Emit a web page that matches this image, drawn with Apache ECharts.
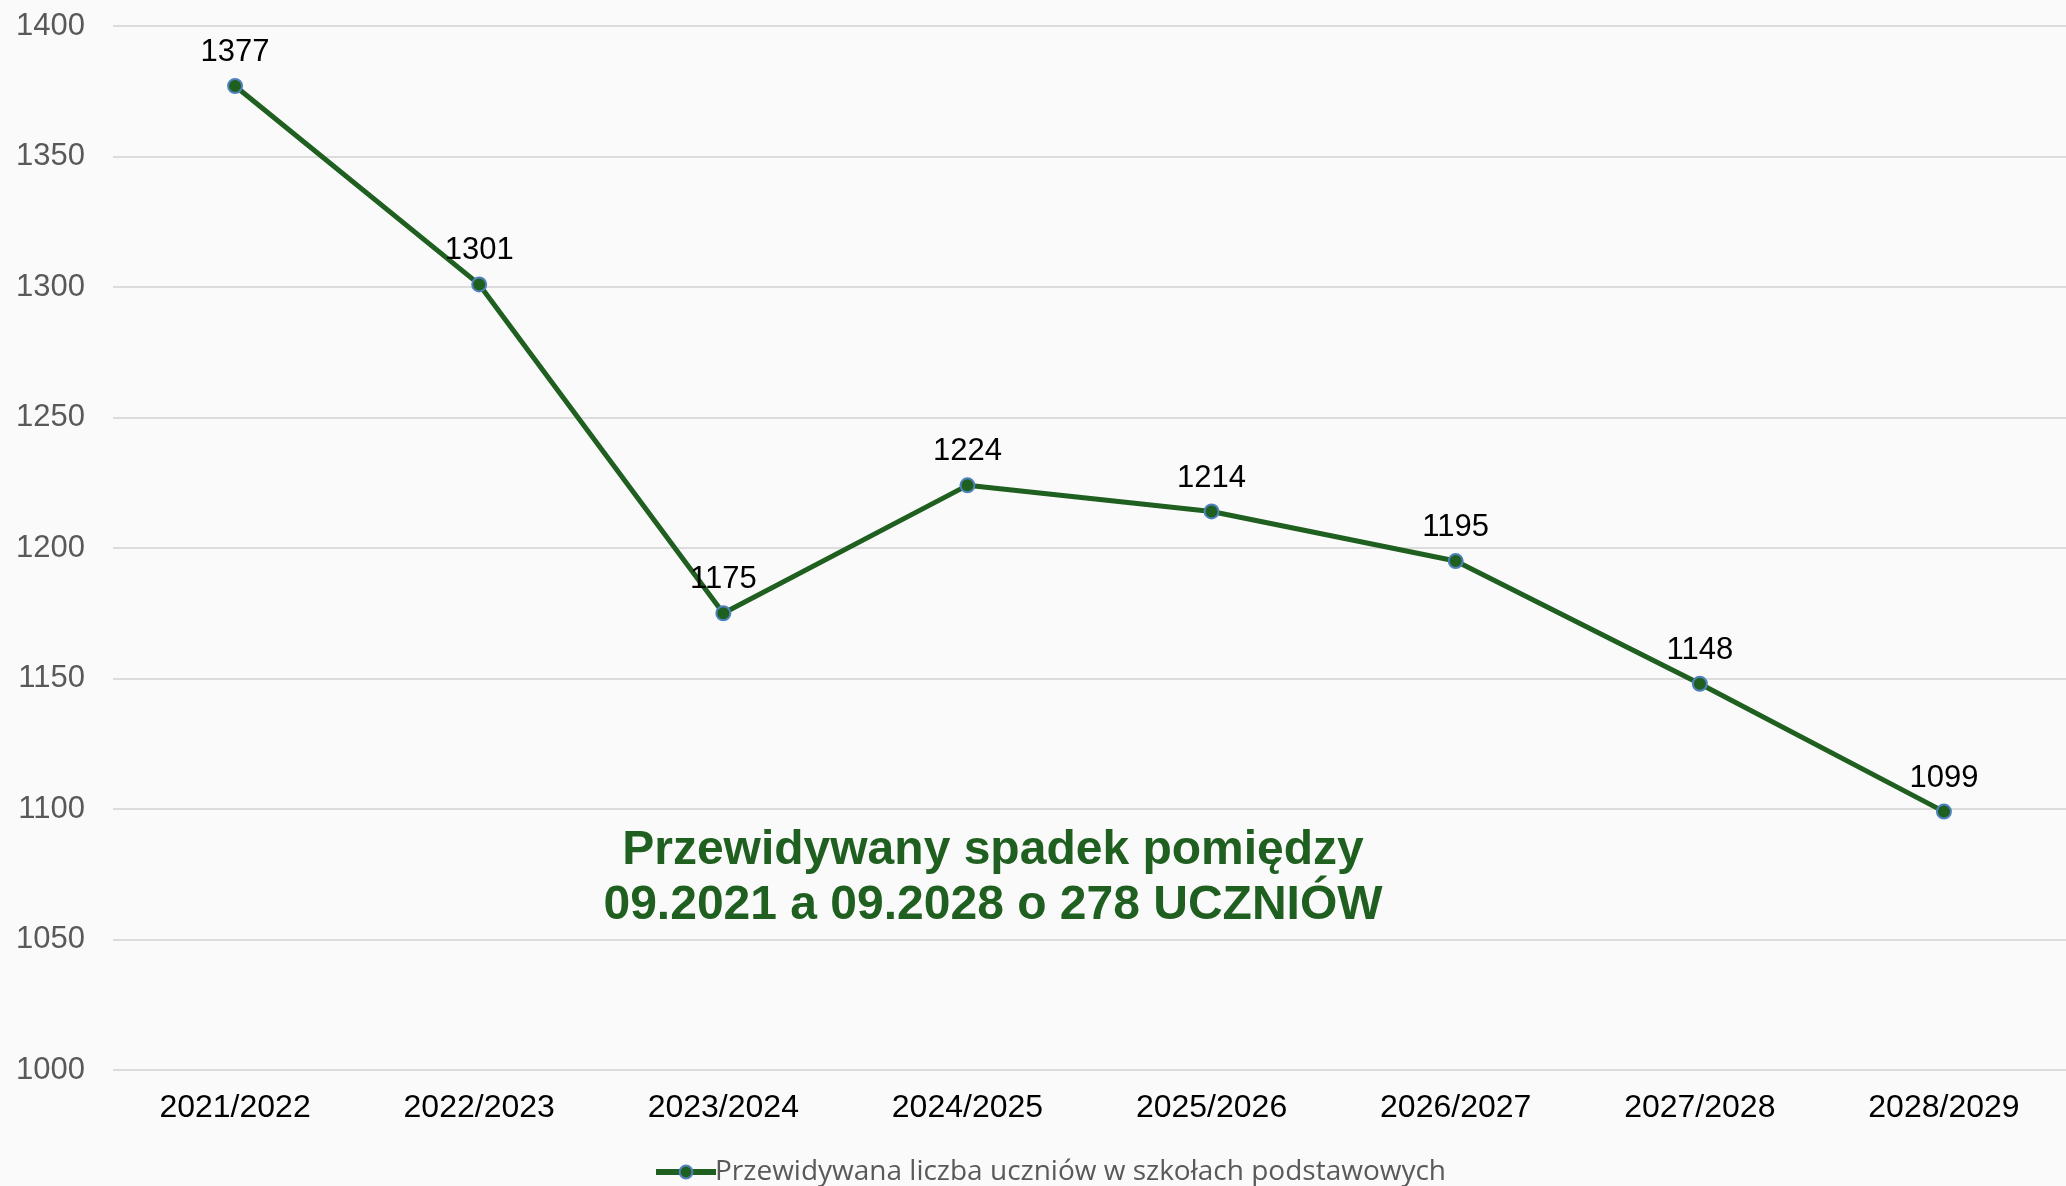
<!DOCTYPE html>
<html>
<head>
<meta charset="utf-8">
<script src="https://cdn.jsdelivr.net/npm/echarts@6/dist/echarts.min.js"></script>
<style>
html,body{margin:0;padding:0;background:#fafafa;}
#chart{width:2066px;height:1186px;}
</style>
</head>
<body>
<div id="chart"></div>
<script>
// lata szkolne
var years = ['2021/2022','2022/2023','2023/2024','2024/2025','2025/2026','2026/2027','2027/2028','2028/2029'];
// przewidywana liczba uczniow
var students = [1377,1301,1175,1224,1214,1195,1148,1099];
var seriesName = 'Przewidywana liczba uczniów w szkołach podstawowych';
var noteLines = ['Przewidywany spadek pomiędzy','09.2021 a 09.2028 o 278 UCZNIÓW'];

var green = '#1f5f1f';
var chart = echarts.init(document.getElementById('chart'));
var opt = {
    backgroundColor: '#fafafa',
    animation: false,
    grid: {left: 113, right: 0, top: 26, bottom: 116},
    legend: {
        top: 1153,
        left: 648,
        itemWidth: 60,
        itemHeight: 16,
        itemGap: 0,
        lineStyle: {width: 6},
        textStyle: {fontFamily: 'Open Sans', fontSize: 28, color: '#595959', padding: [0,0,0,-6]},
        data: [seriesName]
    },
    xAxis: {
        type: 'category',
        data: years,
        axisLine: {show: false},
        axisTick: {show: false},
        axisLabel: {fontFamily: 'Liberation Sans', fontSize: 32, color: '#000', margin: 22}
    },
    yAxis: {
        type: 'value',
        min: 1000,
        max: 1400,
        interval: 50,
        axisLine: {show: false},
        axisTick: {show: false},
        splitLine: {lineStyle: {color: '#dcdcdc', width: 2}},
        axisLabel: {
            fontFamily: 'Liberation Sans', fontSize: 31, color: '#595959', margin: 28,
            formatter: function (v) { return String(v); }
        }
    },
    series: [{
        name: seriesName,
        type: 'line',
        data: students,
        symbol: 'circle',
        symbolSize: 14,
        lineStyle: {color: green, width: 5},
        itemStyle: {color: green, borderColor: '#4f81bd', borderWidth: 2},
        label: {
            show: true,
            position: 'top',
            distance: 10,
            fontFamily: 'Liberation Sans',
            fontSize: 31,
            color: '#000'
        }
    }],
    graphic: [{
        type: 'text',
        x: 993,
        y: 878,
        style: {
            text: noteLines.join('\n'),
            align: 'center',
            verticalAlign: 'middle',
            fontFamily: 'Liberation Sans',
            fontWeight: 'bold',
            fontSize: 48,
            lineHeight: 55,
            fill: green
        }
    }]
};
chart.setOption(opt);
</script>
</body>
</html>
